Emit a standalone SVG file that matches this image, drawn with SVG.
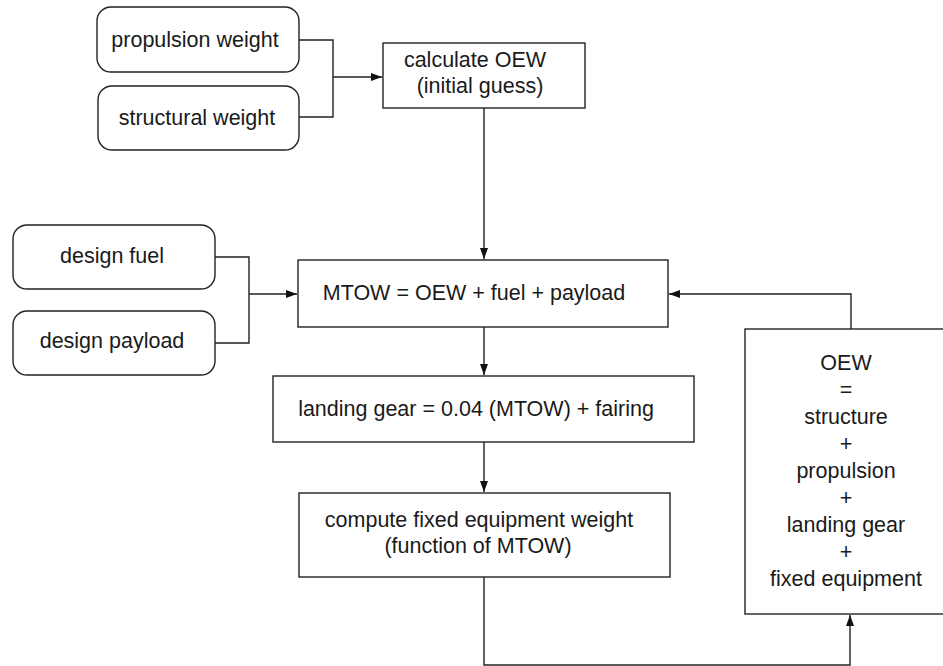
<svg xmlns="http://www.w3.org/2000/svg" width="943" height="666" viewBox="0 0 943 666">
<style>
.box{fill:#fff;stroke:#222;stroke-width:1.4}
.t{font-family:"Liberation Sans",Arial,sans-serif;font-size:21.5px;fill:#1a1a1a;text-anchor:middle}
.c{fill:none;stroke:#222;stroke-width:1.4}
</style>
<defs>
<marker id="ah" markerUnits="userSpaceOnUse" markerWidth="12" markerHeight="10" refX="11" refY="5" orient="auto">
<path d="M0,1 L11,5 L0,9 Z" fill="#111"/>
</marker>
</defs>
<rect width="943" height="666" fill="#fff"/>
<g id="connectors">
<path class="c" d="M299,40 H333 V117 H299"/>
<path class="c" d="M333,77 H382" marker-end="url(#ah)"/>
<path class="c" d="M215,257 H249 V343 H215"/>
<path class="c" d="M249,294 H297" marker-end="url(#ah)"/>
<path class="c" d="M484,108 V259" marker-end="url(#ah)"/>
<path class="c" d="M484,327 V375" marker-end="url(#ah)"/>
<path class="c" d="M484,442 V492" marker-end="url(#ah)"/>
<path class="c" d="M851,329 V294 H669" marker-end="url(#ah)"/>
<path class="c" d="M484,577 V665 H850 V615" marker-end="url(#ah)"/>
</g>
<g id="propulsion">
<rect class="box" x="97" y="7" width="202" height="65" rx="14"/>
<text class="t" x="195" y="47">propulsion weight</text>
</g>
<g id="structural">
<rect class="box" x="98" y="86" width="201" height="64" rx="14"/>
<text class="t" x="197" y="125">structural weight</text>
</g>
<g id="calc-oew">
<rect class="box" x="383" y="43" width="202" height="65"/>
<text class="t" x="475" y="67">calculate OEW</text>
<text class="t" x="480" y="93">(initial guess)</text>
</g>
<g id="design-fuel">
<rect class="box" x="13" y="225" width="202" height="64" rx="14"/>
<text class="t" x="112" y="263">design fuel</text>
</g>
<g id="design-payload">
<rect class="box" x="13" y="311" width="202" height="64" rx="14"/>
<text class="t" x="112" y="348">design payload</text>
</g>
<g id="mtow">
<rect class="box" x="298" y="260" width="370" height="67"/>
<text class="t" x="474" y="300">MTOW = OEW + fuel + payload</text>
</g>
<g id="landing-gear">
<rect class="box" x="273" y="376" width="421" height="66"/>
<text class="t" x="476" y="416">landing gear = 0.04 (MTOW) + fairing</text>
</g>
<g id="fixed-equipment">
<rect class="box" x="299" y="493" width="371" height="84"/>
<text class="t" x="479" y="527">compute fixed equipment weight</text>
<text class="t" x="478" y="553">(function of MTOW)</text>
</g>
<g id="oew-sum">
<rect class="box" x="745" y="329" width="210" height="285"/>
<text class="t" x="846" y="370">OEW</text>
<text class="t" x="846" y="397">=</text>
<text class="t" x="846" y="424">structure</text>
<text class="t" x="846" y="451">+</text>
<text class="t" x="846" y="478">propulsion</text>
<text class="t" x="846" y="505">+</text>
<text class="t" x="846" y="532">landing gear</text>
<text class="t" x="846" y="559">+</text>
<text class="t" x="846" y="586">fixed equipment</text>
</g>
</svg>
